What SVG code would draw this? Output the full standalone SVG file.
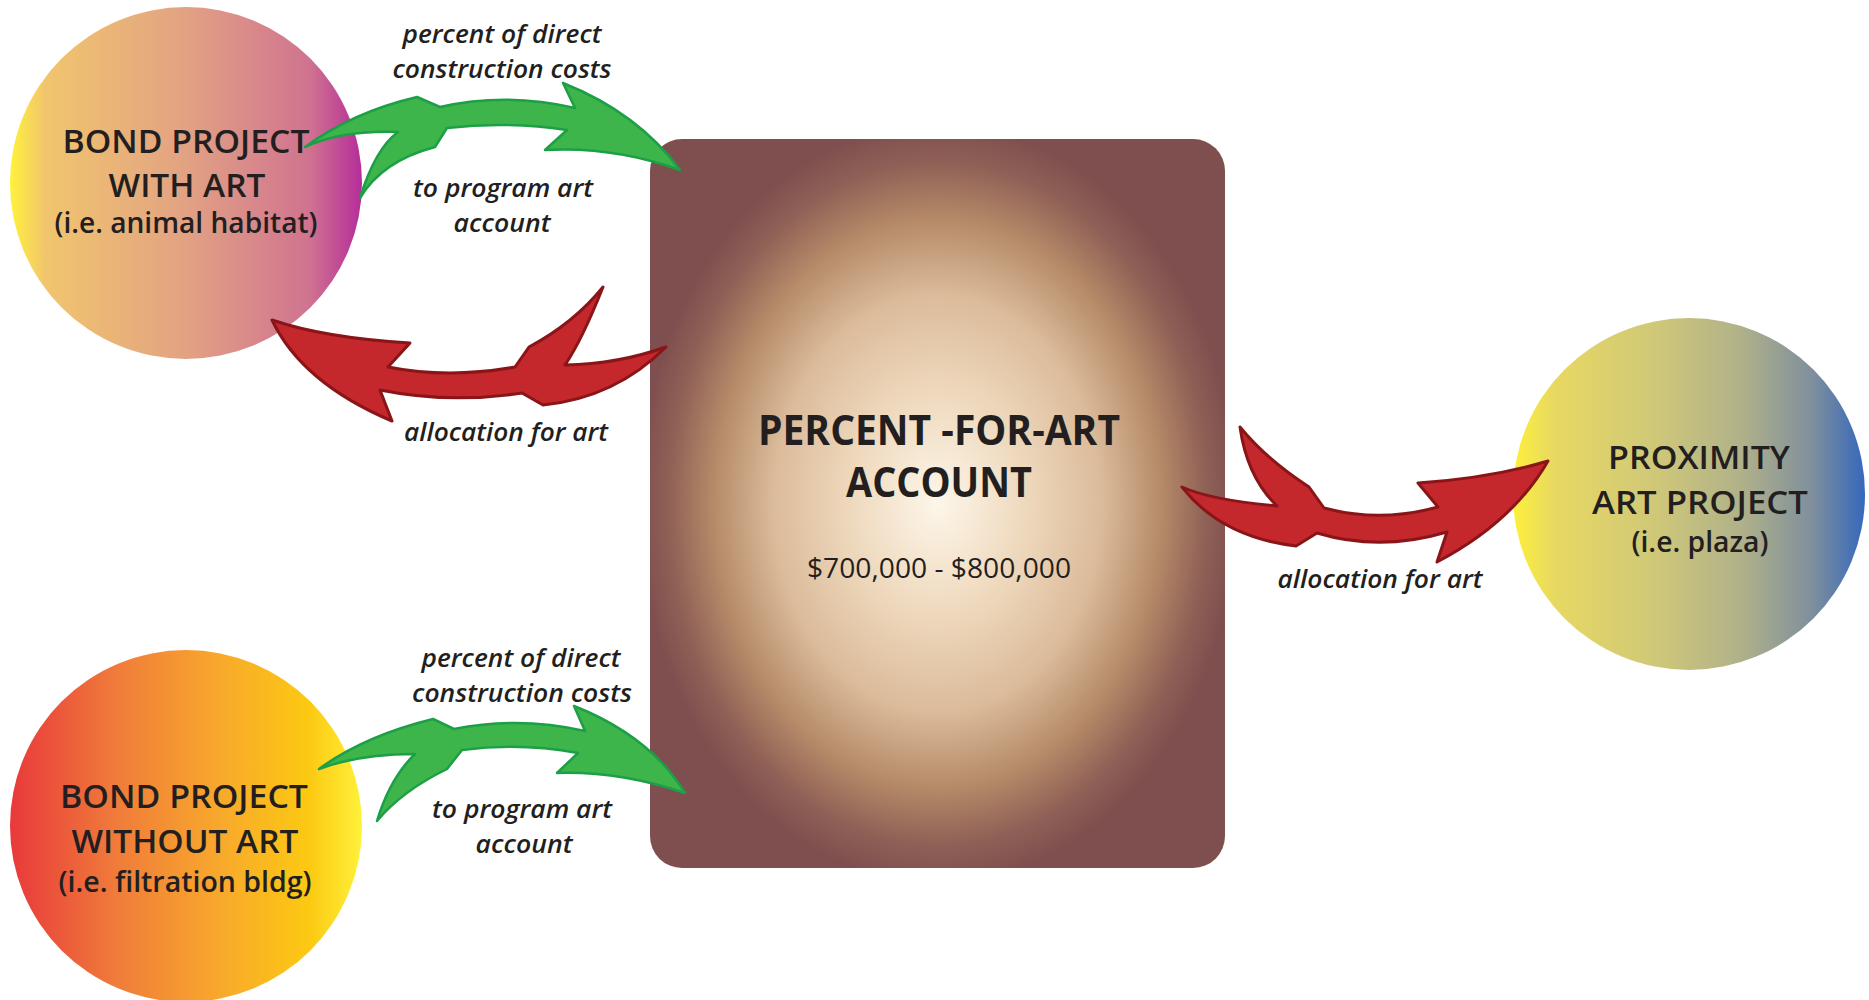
<svg xmlns="http://www.w3.org/2000/svg" width="1869" height="1000" viewBox="0 0 1869 1000">
<defs>
<linearGradient id="g1" x1="0" y1="0" x2="1" y2="0">
<stop offset="0" stop-color="#fff23a"/>
<stop offset="0.1" stop-color="#f1c56e"/>
<stop offset="0.5" stop-color="#e2a283"/>
<stop offset="0.85" stop-color="#d07390"/>
<stop offset="1" stop-color="#b52d9a"/>
</linearGradient>
<linearGradient id="g2" x1="0" y1="0" x2="1" y2="0">
<stop offset="0" stop-color="#e8393b"/>
<stop offset="0.3" stop-color="#f07b3a"/>
<stop offset="0.6" stop-color="#f8a92c"/>
<stop offset="0.85" stop-color="#fcc912"/>
<stop offset="1" stop-color="#fff13a"/>
</linearGradient>
<linearGradient id="g3" x1="0" y1="0" x2="1" y2="0">
<stop offset="0" stop-color="#fdf03a"/>
<stop offset="0.12" stop-color="#e7d862"/>
<stop offset="0.4" stop-color="#d0c878"/>
<stop offset="0.65" stop-color="#b0b18a"/>
<stop offset="0.85" stop-color="#7f8f9c"/>
<stop offset="1" stop-color="#3568bd"/>
</linearGradient>
<radialGradient id="gc" cx="0.5" cy="0.5" r="0.52">
<stop offset="0" stop-color="#fdf6e9"/>
<stop offset="0.3" stop-color="#eed8bc"/>
<stop offset="0.55" stop-color="#dbbb9a"/>
<stop offset="0.75" stop-color="#b58a68"/>
<stop offset="0.9" stop-color="#8f6056"/>
<stop offset="1" stop-color="#7f4f4f"/>
</radialGradient>
</defs>
<style>
.t{font-family:"Open Sans","Noto Sans","Liberation Sans",sans-serif;fill:#231f20;text-anchor:middle}
.h{font-size:33px;font-weight:600}
.s{font-size:28px;font-weight:600}
.c{font-size:41px;font-weight:700}
.m{font-size:28px;font-weight:400}
.l{font-size:25px;font-weight:600;font-style:italic}
.green{fill:#3db54a;stroke:#1c9f47;stroke-width:2.5;stroke-linejoin:round}
.red{fill:#c4272c;stroke:#8a1518;stroke-width:3;stroke-linejoin:round}
</style>
<rect width="1869" height="1000" fill="#ffffff"/>

<g id="bond-with-art">
<circle cx="186" cy="183" r="176" fill="url(#g1)"/>
<text class="t h" x="186" y="153" textLength="247" lengthAdjust="spacingAndGlyphs">BOND PROJECT</text>
<text class="t h" x="187" y="197" textLength="157" lengthAdjust="spacingAndGlyphs">WITH ART</text>
<text class="t s" x="186" y="233" textLength="263" lengthAdjust="spacingAndGlyphs">(i.e. animal habitat)</text>
</g>

<g id="bond-without-art">
<circle cx="186" cy="826" r="176" fill="url(#g2)"/>
<text class="t h" x="184" y="808" textLength="248" lengthAdjust="spacingAndGlyphs">BOND PROJECT</text>
<text class="t h" x="185" y="853" textLength="227" lengthAdjust="spacingAndGlyphs">WITHOUT ART</text>
<text class="t s" x="185" y="892" textLength="253" lengthAdjust="spacingAndGlyphs">(i.e. filtration bldg)</text>
</g>

<g id="proximity-art-project">
<circle cx="1689" cy="494" r="176" fill="url(#g3)"/>
<text class="t h" x="1699" y="469" textLength="182" lengthAdjust="spacingAndGlyphs">PROXIMITY</text>
<text class="t h" x="1700" y="514" textLength="216" lengthAdjust="spacingAndGlyphs">ART PROJECT</text>
<text class="t s" x="1700" y="552" textLength="137" lengthAdjust="spacingAndGlyphs">(i.e. plaza)</text>
</g>

<g id="percent-for-art-account">
<rect x="650" y="139" width="575" height="729" rx="32" ry="32" fill="url(#gc)"/>
<text class="t c" x="939" y="445" textLength="362" lengthAdjust="spacingAndGlyphs">PERCENT -FOR-ART</text>
<text class="t c" x="939" y="497" textLength="186" lengthAdjust="spacingAndGlyphs">ACCOUNT</text>
<text class="t m" x="939" y="578" textLength="264" lengthAdjust="spacingAndGlyphs">$700,000 - $800,000</text>
</g>

<g id="connectors">
<path class="green" d="M305,147 Q353,112 417,97 L440,107 Q506,92 575,108 L563,83 Q638,113 680,170 Q613,146 545,150 L567,130 Q507,121 447,128 L435,147 Q382,161 360,198 Q375,149 398,132 Q342,130 305,147 Z"/>
<path class="red" d="M272,320 Q325,338 410,343 L388,367 Q448,379 515,367 L529,347 Q574,323 603,287 Q582,340 565,365 Q618,364 666,347 Q615,398 543,405 L522,393 Q449,404 380,390 L392,421 Q302,383 272,320 Z"/>
<path class="green" d="M319,769 Q364,736 433,719 L454,729 Q520,716 585,731 L574,706 Q650,736 685,793 Q619,771 557,773 L578,753 Q520,742 462,750 L447,769 Q402,791 377,821 Q390,778 415,754 Q359,754 319,769 Z"/>
<path class="red" d="M1240,427 Q1266,459 1309,487 L1324,508 Q1380,523 1438,507 L1418,483 Q1491,478 1548,461 Q1513,522 1437,562 L1447,532 Q1380,552 1317,533 L1296,546 Q1221,537 1182,487 Q1211,500 1277,506 Q1247,477 1240,427 Z"/>
<text class="t l" x="502" y="43" textLength="199" lengthAdjust="spacingAndGlyphs">percent of direct</text>
<text class="t l" x="502" y="78" textLength="219" lengthAdjust="spacingAndGlyphs">construction costs</text>
<text class="t l" x="503" y="197" textLength="180" lengthAdjust="spacingAndGlyphs">to program art</text>
<text class="t l" x="502" y="232" textLength="97" lengthAdjust="spacingAndGlyphs">account</text>
<text class="t l" x="506" y="441" textLength="204" lengthAdjust="spacingAndGlyphs">allocation for art</text>
<text class="t l" x="521" y="667" textLength="199" lengthAdjust="spacingAndGlyphs">percent of direct</text>
<text class="t l" x="522" y="702" textLength="220" lengthAdjust="spacingAndGlyphs">construction costs</text>
<text class="t l" x="522" y="818" textLength="180" lengthAdjust="spacingAndGlyphs">to program art</text>
<text class="t l" x="524" y="853" textLength="97" lengthAdjust="spacingAndGlyphs">account</text>
<text class="t l" x="1380" y="588" textLength="205" lengthAdjust="spacingAndGlyphs">allocation for art</text>
</g>
</svg>
